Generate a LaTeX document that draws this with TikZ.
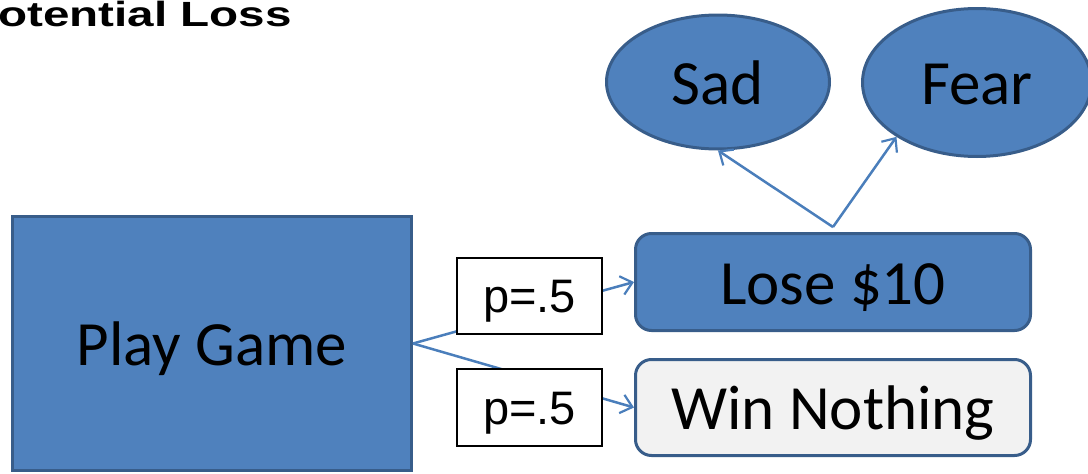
\documentclass[tikz,border=0pt]{standalone}
\usepackage{fontspec}
\setmainfont{Carlito}
\newfontfamily\arialf{Liberation Sans}
\usetikzlibrary{shapes.geometric,arrows.meta}
\definecolor{boxfill}{HTML}{4F81BD}
\definecolor{boxline}{HTML}{385D8A}
\definecolor{conn}{HTML}{4A7EBB}
\definecolor{lightfill}{HTML}{F2F2F2}
\tikzset{
  bigtext/.style={font=\fontsize{63}{70}\selectfont, text height=58.6pt, text depth=13.9pt, inner sep=0pt},
  bluebox/.style={bigtext, draw=boxline, fill=boxfill, line width=3pt},
  roundbox/.style={bigtext, draw=boxline, line width=3pt, rounded corners=16pt},
  oval/.style={bluebox, ellipse},
  pbox/.style={draw=black, fill=white, line width=1.5pt, font=\arialf\fontsize{47}{54}\selectfont, text height=42.3pt, text depth=8.5pt, inner sep=0pt},
  link/.style={draw=conn, line width=2.5pt, -{Straight Barb[length=11pt,width=19pt,line width=2.2pt]}}
}
\begin{document}
\begin{tikzpicture}[x=1pt,y=-1pt]
\clip (0,0) rectangle (1088,474);
\useasboundingbox (0,0) rectangle (1088,474);
% title
\node[anchor=base west, inner sep=0pt] (title) at (-2,26) {\scalebox{1.36}[1]{\arialf\bfseries\fontsize{35}{42}\selectfont otential Loss}};
% main nodes
\node[bluebox, minimum width=399pt, minimum height=254pt] (pg) at (212,343.5) {Play Game};
\node[roundbox, fill=boxfill, minimum width=395pt, minimum height=97pt] (lose) at (833,282) {Lose \$10};
\node[roundbox, fill=lightfill, minimum width=395pt, minimum height=96pt] (win) at (833,407.5) {Win Nothing};
\node[oval, minimum width=223pt, minimum height=134pt] (sad) at (718,82) {Sad};
\node[oval, minimum width=229pt, minimum height=148pt] (fear) at (977,82.5) {Fear};
% connectors
\draw[link] (pg.east) -- (lose.west);
\draw[link] (pg.east) -- (win.west);
\coordinate (fork) at ([yshift=5pt]lose.north);
\draw[link] (fork) -- (sad.south);
\draw[link] (fork) -- (fear.214);
% probability labels
\node[pbox, minimum width=145pt, minimum height=76pt] (p1) at (529.5,296) {p=.5};
\node[pbox, minimum width=145pt, minimum height=77pt] (p2) at (529.5,407.5) {p=.5};
\end{tikzpicture}
\end{document}
